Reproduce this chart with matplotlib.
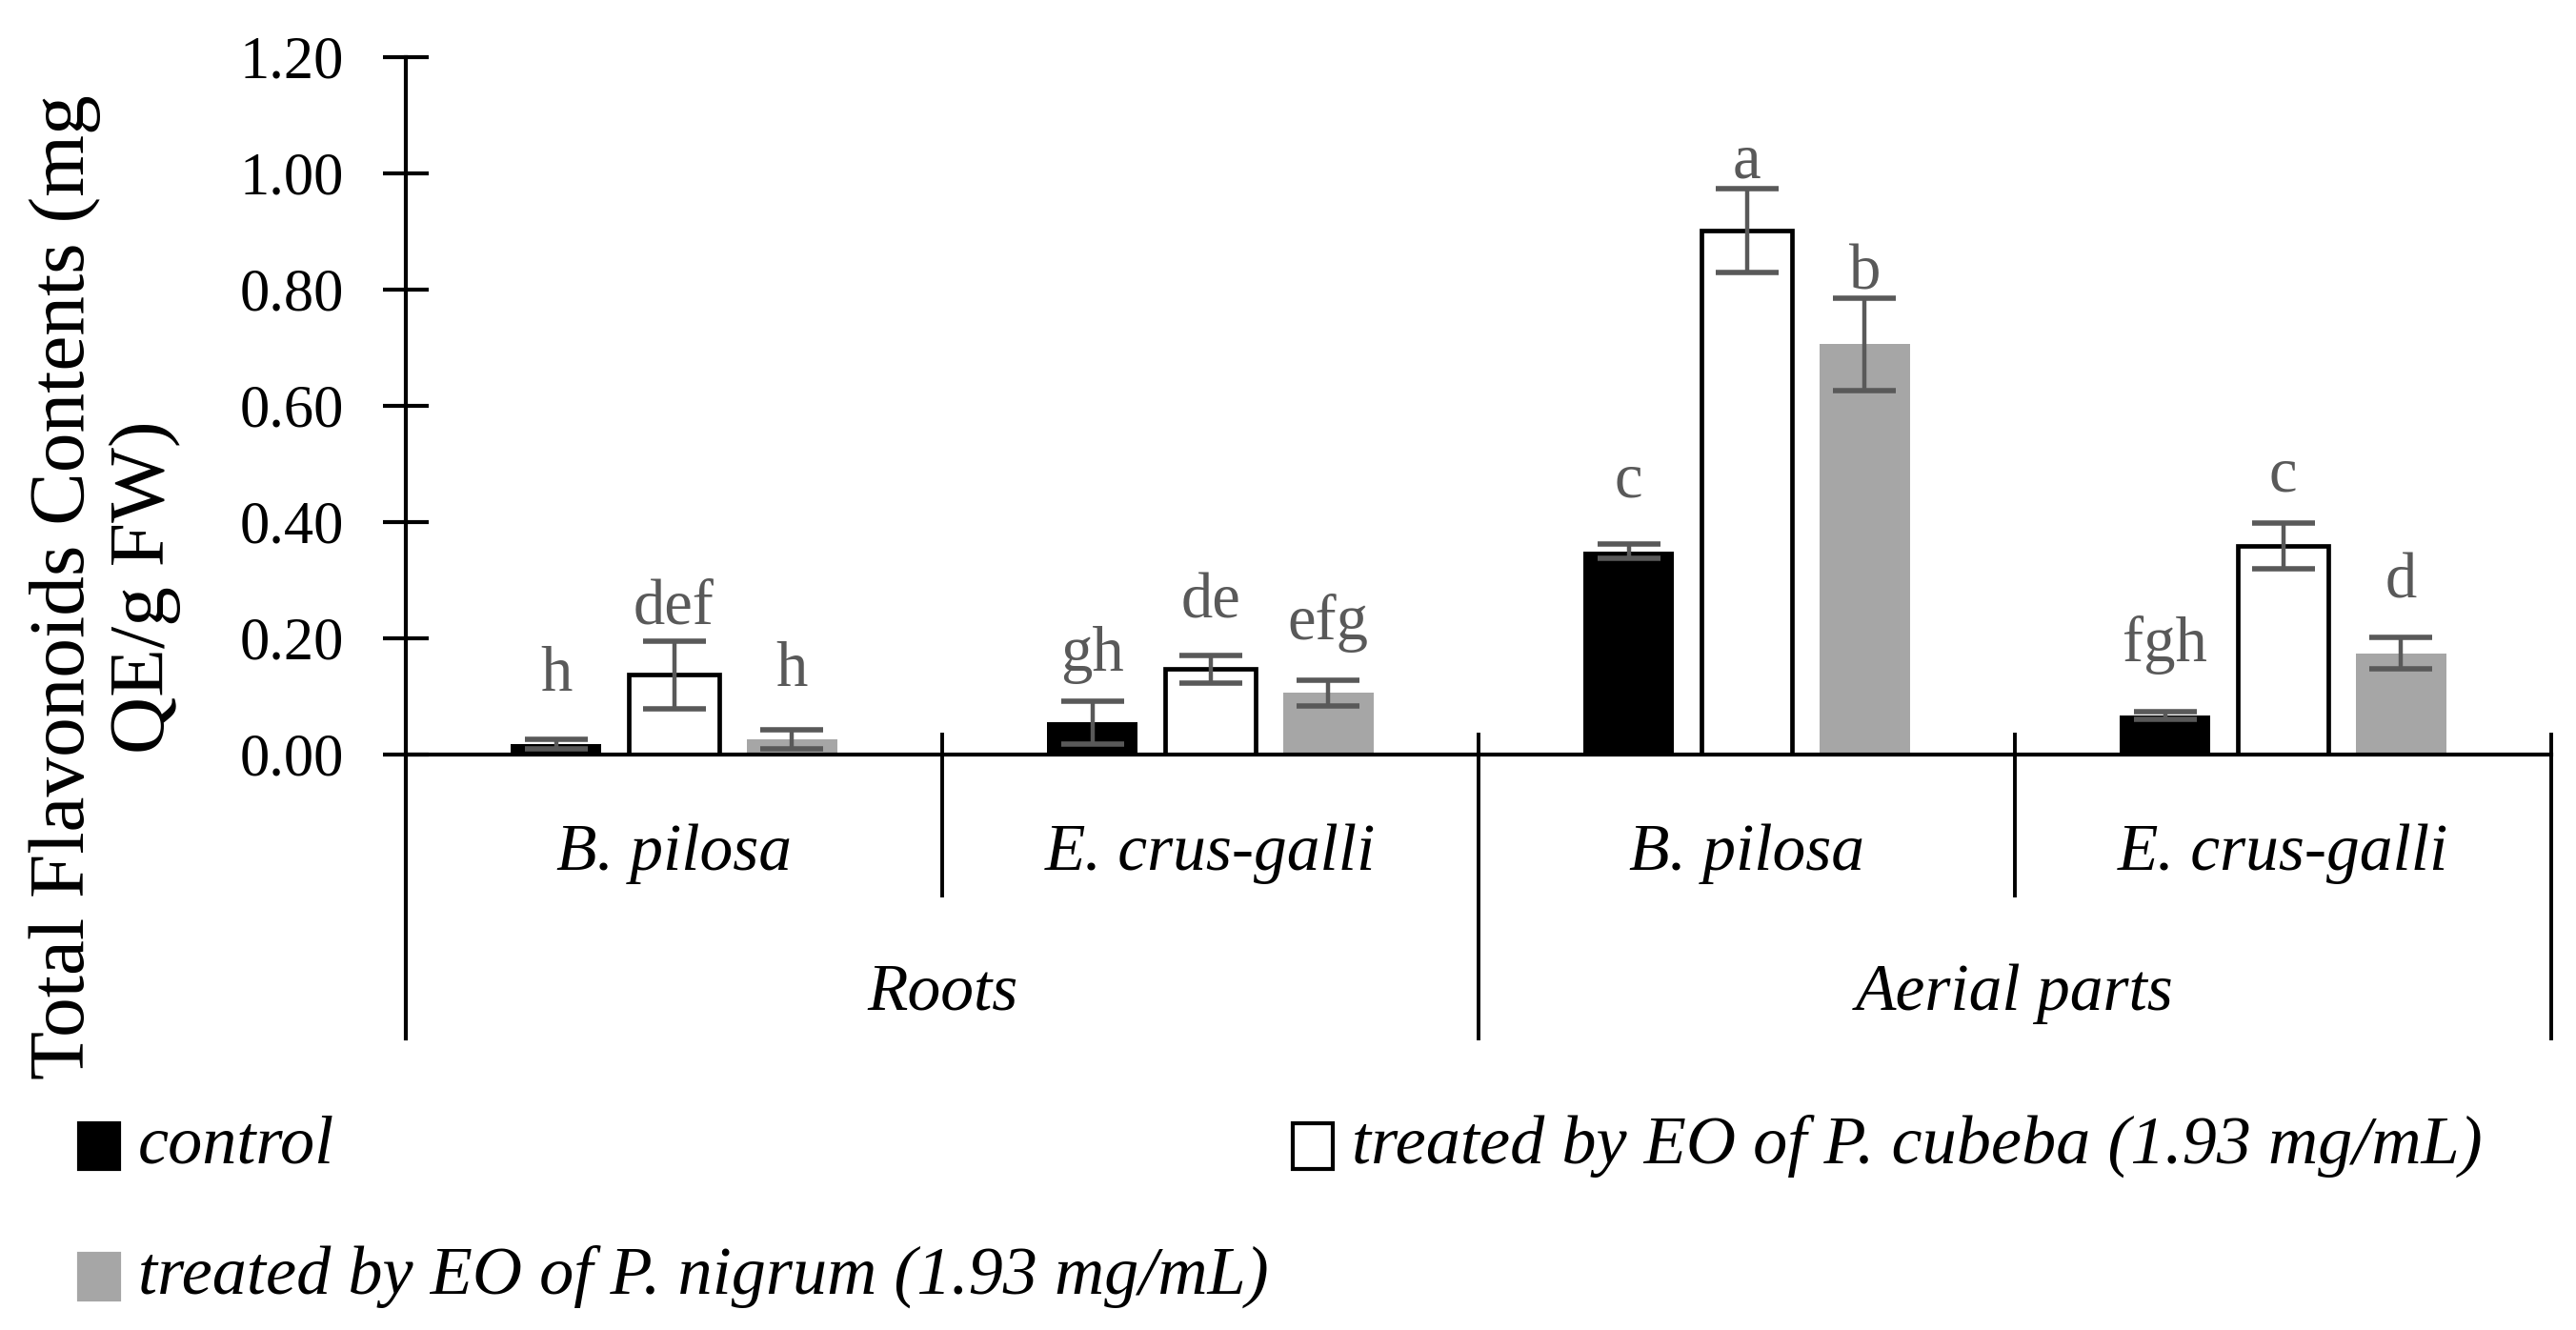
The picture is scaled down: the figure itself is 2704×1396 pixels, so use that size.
import numpy as np
import matplotlib.pyplot as plt
from matplotlib.patches import Rectangle

plt.rcParams['font.family'] = ['Liberation Serif', 'DejaVu Serif']

species = ["B. pilosa", "E. crus-galli", "B. pilosa", "E. crus-galli"]
organs = ["Roots", "Aerial parts"]

control = [0.018, 0.055, 0.350, 0.067]
control_err = [0.008, 0.037, 0.012, 0.006]
cubeba = [0.137, 0.147, 0.902, 0.359]
cubeba_err = [0.058, 0.024, 0.072, 0.039]
nigrum = [0.026, 0.106, 0.706, 0.174]
nigrum_err = [0.016, 0.022, 0.079, 0.027]

control_letters = ["h", "gh", "c", "fgh"]
cubeba_letters = ["def", "de", "a", "c"]
nigrum_letters = ["h", "efg", "b", "d"]
# baseline height of each letter group
control_letter_y = [0.110, 0.144, 0.443, 0.161]
cubeba_letter_y = [0.226, 0.236, 0.992, 0.454]
nigrum_letter_y = [0.118, 0.199, 0.800, 0.269]

legend_labels = ["control", "treated by EO of P. cubeba (1.93 mg/mL)",
                 "treated by EO of P. nigrum (1.93 mg/mL)"]

W, H = 2704, 1396
fig = plt.figure(figsize=(W / 100, H / 100), dpi=100)
ax = fig.add_axes([426 / W, 1 - 792 / H, (2678 - 426) / W, (792 - 60) / H])

x = np.arange(len(species))
step = 0.22
bw = 0.169
err_kw = dict(ecolor="#595959", elinewidth=3.2, capsize=24, capthick=4)

ax.bar(x - step, control, bw, color="black", yerr=control_err, error_kw=err_kw, zorder=2)
ax.bar(x, cubeba, bw, color="white", edgecolor="black", linewidth=3.4,
       yerr=cubeba_err, error_kw=err_kw, zorder=2)
ax.bar(x + step, nigrum, bw, color="#a6a6a6", yerr=nigrum_err, error_kw=err_kw, zorder=2)

for off, letters, ys in [(-step, control_letters, control_letter_y),
                         (0, cubeba_letters, cubeba_letter_y),
                         (step, nigrum_letters, nigrum_letter_y)]:
    for i in range(len(x)):
        ax.text(x[i] + off, ys[i], letters[i], ha="center", va="baseline",
                fontsize=48, color="#595959")

ax.set_xlim(-0.5, 3.5)
ax.set_ylim(0, 1.2)
ax.set_yticks(np.arange(0, 1.21, 0.2))
ax.set_yticklabels([f"{v:.2f}" for v in np.arange(0, 1.21, 0.2)])
ax.tick_params(axis="y", direction="inout", length=34, width=3, labelsize=45, pad=30)
ax.set_xticks([])
for s in ["top", "right"]:
    ax.spines[s].set_visible(False)
ax.spines["left"].set_linewidth(3)
ax.spines["bottom"].set_linewidth(3)

# grouped category axis
trans = ax.get_xaxis_transform()
for xs in [0.5, 2.5]:
    ax.plot([xs, xs], [0.029, -0.202], color="black", lw=2.8, transform=trans, clip_on=False)
for xs in [1.5, 3.5]:
    ax.plot([xs, xs], [0.029, -0.407], color="black", lw=2.8, transform=trans, clip_on=False)
ax.plot([-0.5, -0.5], [0, -0.407], color="black", lw=3, transform=trans, clip_on=False)

for i, name in enumerate(species):
    ax.text(x[i], -0.143, name, transform=trans, ha="center", va="center",
            fontsize=50, style="italic")
for j, name in enumerate(organs):
    ax.text(0.5 + 2 * j, -0.343, name, transform=trans, ha="center", va="center",
            fontsize=50, style="italic")

fig.text(110 / W, 1 - 616 / H, "Total Flavonoids Contents (mg\nQE/g FW)", rotation=90,
         ha="center", va="center", fontsize=60, linespacing=1.15, multialignment="center")

# legend
legend_pos = [(83, 1203), (1357, 1203), (83, 1340)]
legend_face = ["black", "white", "#a6a6a6"]
legend_edge = ["black", "black", "#a6a6a6"]
for (px, py), lab, fc, ec in zip(legend_pos, legend_labels, legend_face, legend_edge):
    fig.patches.append(Rectangle((px / W, 1 - (py + 24) / H), 42 / W, 48 / H,
                                 transform=fig.transFigure, facecolor=fc,
                                 edgecolor=ec, linewidth=3))
    fig.text((px + 62) / W, 1 - py / H, lab, ha="left", va="center",
             fontsize=52, style="italic")

fig.savefig("out.png", dpi=100)
